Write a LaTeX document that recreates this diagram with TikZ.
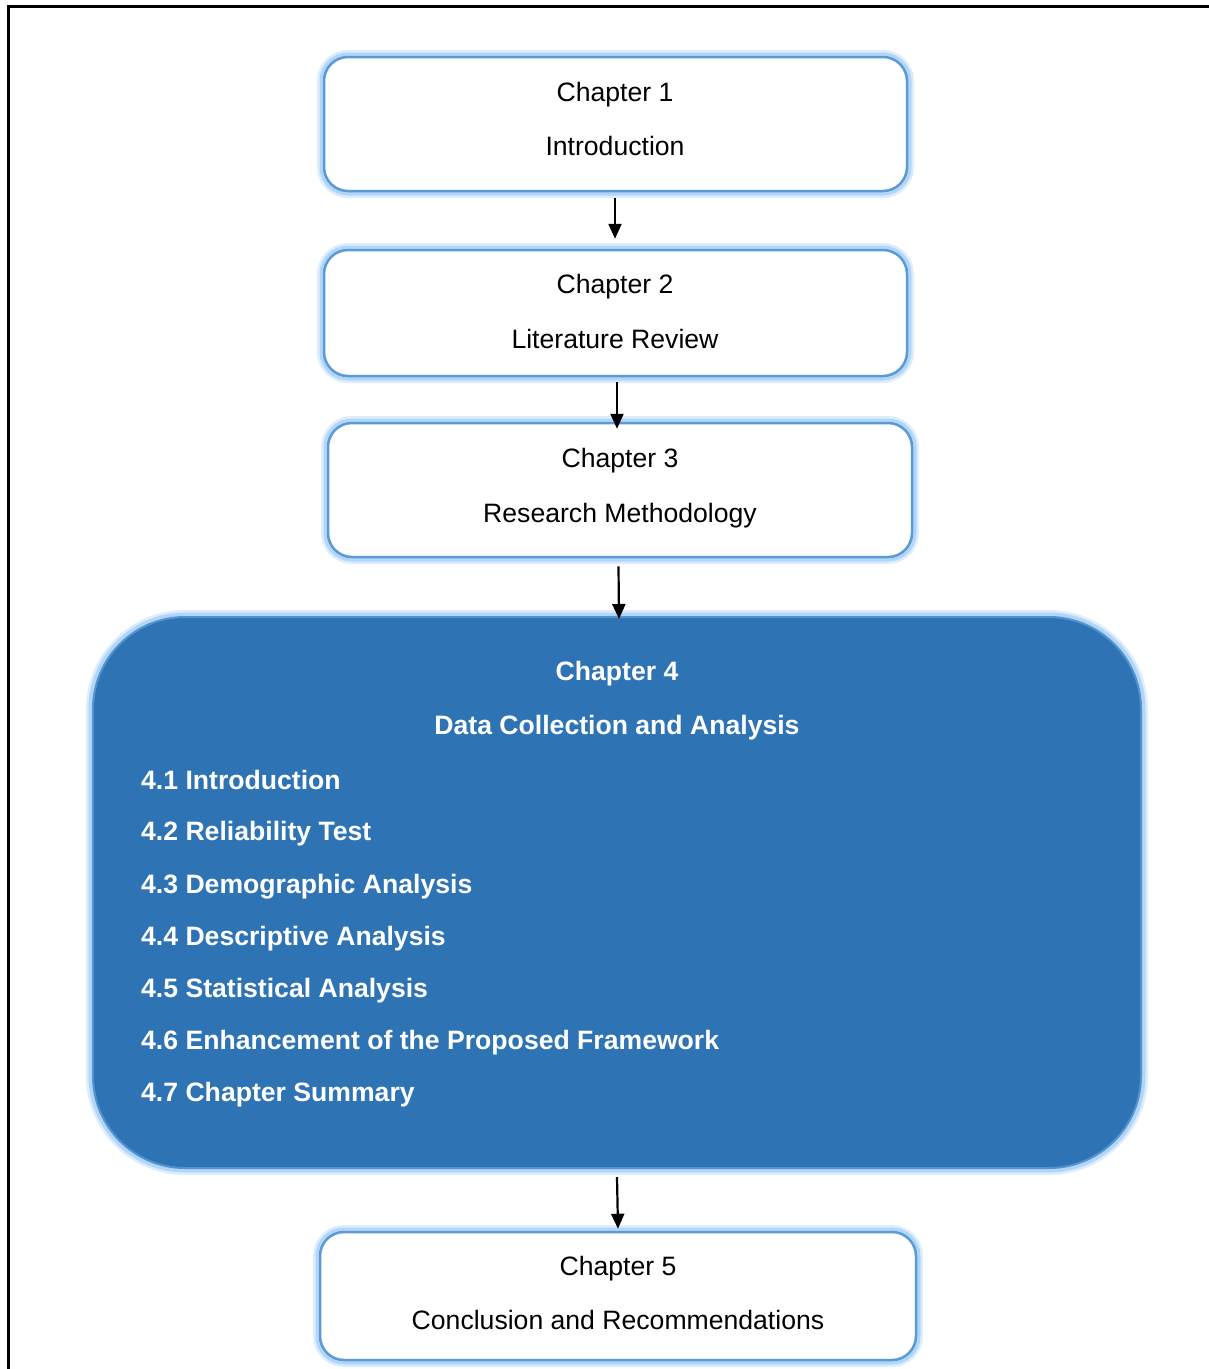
\documentclass[tikz,border=0pt]{standalone}
\usepackage{fontspec}
\setmainfont{Liberation Sans}
\usetikzlibrary{arrows.meta}
\definecolor{edgeblue}{RGB}{91,155,213}
\definecolor{glowblue}{RGB}{160,205,248}
\definecolor{darkfill}{RGB}{46,116,181}
\tikzset{
  glow/.style={preaction={draw=glowblue, line width=14pt, opacity=0.35},
               preaction={draw=glowblue, line width=9pt, opacity=0.7}},
  chapbox/.style={rectangle, glow, draw=edgeblue, line width=2.5pt, fill=white,
                  rounded corners=24pt, inner sep=0pt},
  bigbox/.style={rectangle, glow, draw=edgeblue!80!darkfill, line width=2pt, fill=darkfill,
                  rounded corners=92pt, inner sep=0pt},
  chaptext/.style={anchor=base, inner sep=0pt, font=\fontsize{26.6}{30}\selectfont},
  bigtext/.style={anchor=base, inner sep=0pt, text=white, font=\fontsize{26.6}{30}\selectfont\bfseries},
  itemtext/.style={anchor=base west, inner sep=0pt, text=white, font=\fontsize{26.6}{30}\selectfont\bfseries},
  arr/.style={line width=2.2pt, -{Triangle[length=15pt,width=13pt]}},
  frameline/.style={line width=3pt}
}
\begin{document}
\begin{tikzpicture}[x=1pt,y=-1pt]
\useasboundingbox (0,0) rectangle (1209,1369);
\fill[white] (0,0) rectangle (1209,1369);
% frame
\coordinate (ftl) at (8,6);
\coordinate (ftr) at (1212,6);
\coordinate (fbl) at (8,1372);
\draw[frameline] (ftr) -- (ftl) -- (fbl);

% boxes
\node[chapbox, minimum width=583pt, minimum height=134pt] (c1) at (615.5,124) {};
\node[chapbox, minimum width=583pt, minimum height=126pt] (c2) at (615.5,313) {};
\node[chapbox, minimum width=584pt, minimum height=134pt] (c3) at (620,490) {};
\node[bigbox, minimum width=1048pt, minimum height=551pt] (c4) at (617,892.5) {};
\node[chapbox, minimum width=596pt, minimum height=128pt] (c5) at (618,1296) {};

% texts
\node[chaptext] (t1a) at (615,101) {Chapter 1};
\node[chaptext] (t1b) at (615,155) {Introduction};
\node[chaptext] (t2a) at (615,293) {Chapter 2};
\node[chaptext] (t2b) at (615,348) {Literature Review};
\node[chaptext] (t3a) at (620,467) {Chapter 3};
\node[chaptext] (t3b) at (620,522) {Research Methodology};
\node[bigtext] (t4a) at (617,680) {Chapter 4};
\node[bigtext] (t4b) at (617,734) {Data Collection and Analysis};
\node[itemtext] (i1) at (141,789) {4.1 Introduction};
\node[itemtext] (i2) at (141,840) {4.2 Reliability Test};
\node[itemtext] (i3) at (141,893) {4.3 Demographic Analysis};
\node[itemtext] (i4) at (141,945) {4.4 Descriptive Analysis};
\node[itemtext] (i5) at (141,997) {4.5 Statistical Analysis};
\node[itemtext] (i6) at (141,1049) {4.6 Enhancement of the Proposed Framework};
\node[itemtext] (i7) at (141,1101) {4.7 Chapter Summary};
\node[chaptext] (t5a) at (618,1275) {Chapter 5};
\node[chaptext] (t5b) at (618,1329) {Conclusion and Recommendations};

% arrows
\draw[arr] ([xshift=-0.5pt,yshift=-6pt]c1.south) -- ([xshift=-0.5pt,yshift=10pt]c2.north);
\draw[arr] ([xshift=1.5pt,yshift=-5pt]c2.south) -- ([xshift=-3pt,yshift=-7pt]c3.north);
\draw[arr] ([xshift=-1.5pt,yshift=-8pt]c3.south) -- ([xshift=2pt,yshift=-3pt]c4.north);
\draw[arr] ([yshift=-8pt]c4.south) -- ([xshift=0pt,yshift=2pt]c5.north);
\end{tikzpicture}
\end{document}
